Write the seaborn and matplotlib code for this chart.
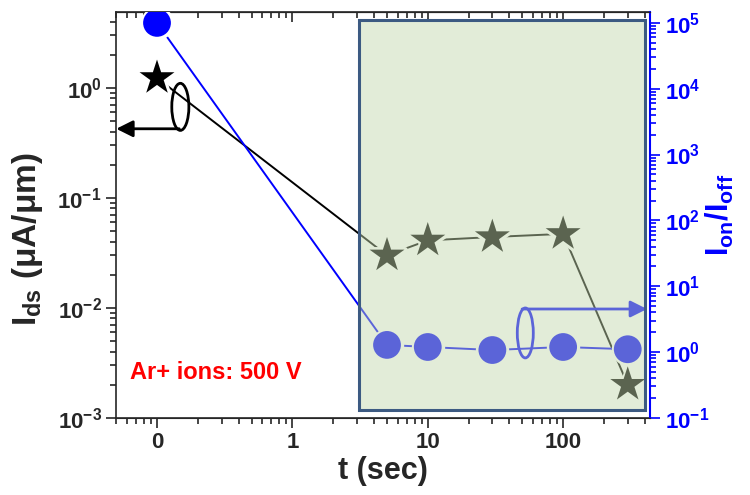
import numpy as np
import pandas as pd
import matplotlib
matplotlib.use("Agg")
import matplotlib.pyplot as plt
import seaborn as sns
from matplotlib.patches import Rectangle, Ellipse
from matplotlib.ticker import FixedLocator, FixedFormatter, LogLocator, NullFormatter

# data
t_sec = [0, 5, 10, 30, 100, 300]
t_ticks = [0.1, 1, 10, 100]          # "0" is drawn at the 0.1 position
t_labels = ["0", "1", "10", "100"]
ids = [1.23, 0.030, 0.041, 0.044, 0.047, 0.0020]       # uA/um
on_off = [1.0e5, 1.28, 1.19, 1.07, 1.19, 1.10]
left_ticks = [1e-3, 1e-2, 1e-1, 1e0]
left_labels = [r"$\mathbf{10^{-3}}$", r"$\mathbf{10^{-2}}$", r"$\mathbf{10^{-1}}$", r"$\mathbf{10^{0}}$"]
right_ticks = [1e-1, 1e0, 1e1, 1e2, 1e3, 1e4, 1e5]
right_labels = [r"$\mathbf{10^{%d}}$" % e for e in range(-1, 6)]

sns.set_style("ticks")
plt.rcParams["font.family"] = ["Liberation Sans", "DejaVu Sans"]
plt.rcParams["font.weight"] = "bold"
plt.rcParams["mathtext.fontset"] = "custom"
plt.rcParams["mathtext.rm"] = "Liberation Sans:bold"
plt.rcParams["mathtext.bf"] = "Liberation Sans:bold"

df = pd.DataFrame({"t": [0.1 if t == 0 else t for t in t_sec], "ids": ids, "ratio": on_off})

fig, ax = plt.subplots(figsize=(7.5, 4.95), dpi=100)
plt.subplots_adjust(left=0.155, right=0.867, top=0.976, bottom=0.156)
ax.set_xscale("log")
ax.set_yscale("log")
ax2 = ax.twinx()
ax2.set_yscale("log")

blue = "#0000ff"

# Ids: line, white mask under each star for the gap, then the stars
sns.lineplot(data=df, x="t", y="ids", color="black", lw=1.4, ax=ax)
sns.scatterplot(data=df, x="t", y="ids", marker="*", s=700, color="white", edgecolor="white",
                linewidth=4, ax=ax, zorder=2.6, clip_on=False)
sns.scatterplot(data=df, x="t", y="ids", marker="*", s=700, color="black", edgecolor="none",
                ax=ax, zorder=3, clip_on=False)

# on/off ratio
sns.lineplot(data=df, x="t", y="ratio", color=blue, lw=1.4, ax=ax2)
sns.scatterplot(data=df, x="t", y="ratio", marker="o", s=400, color="white", edgecolor="white",
                linewidth=4, ax=ax2, zorder=2.6)
sns.scatterplot(data=df, x="t", y="ratio", marker="o", s=400, color=blue, edgecolor="none",
                ax=ax2, zorder=3)

ax.set_xlim(0.05, 440)
ax.set_ylim(1e-3, 4.9)
ax2.set_ylim(0.1, 1.47e5)

# left annotation (ellipse + arrow to left axis)
ax.add_patch(Ellipse((0.12, 0.766), 0.032, 0.116, transform=ax.transAxes, fill=False, ec="black", lw=2, zorder=4))
ax.annotate("", xy=(0.0, 0.712), xycoords="axes fraction", xytext=(0.118, 0.712), textcoords="axes fraction",
            arrowprops=dict(arrowstyle="-|>", color="black", lw=2, mutation_scale=25, shrinkA=0, shrinkB=0))

# right annotation (ellipse + arrow to right axis)
ax2.add_patch(Ellipse((0.766, 0.209), 0.03, 0.123, transform=ax2.transAxes, fill=False, ec=blue, lw=2, zorder=2))
ax2.annotate("", xy=(0.994, 0.268), xycoords="axes fraction", xytext=(0.76, 0.268), textcoords="axes fraction",
             arrowprops=dict(arrowstyle="-|>", color=blue, lw=2, mutation_scale=25, shrinkA=0, shrinkB=0), zorder=2)

# translucent green box
box_x0, box_x1 = 3.1, 400
ax2.add_patch(Rectangle((box_x0, 0.132), box_x1 - box_x0, 1.1e5 - 0.132, fc="#c2d7ac", alpha=0.47, ec="none", zorder=5))
ax2.add_patch(Rectangle((box_x0, 0.132), box_x1 - box_x0, 1.1e5 - 0.132, fill=False, ec="#3c5a82", lw=2.2, zorder=6))

ax.text(0.025, 0.095, "Ar+ ions: 500 V", transform=ax.transAxes, color="red", fontsize=17, fontweight="bold")

minor_x = [m * 10.0 ** d for d in range(-2, 3) for m in range(2, 10)]

# x axis
ax.xaxis.set_major_locator(FixedLocator(t_ticks))
ax.xaxis.set_major_formatter(FixedFormatter(t_labels))
ax.xaxis.set_minor_locator(FixedLocator(minor_x))
ax.xaxis.set_minor_formatter(NullFormatter())
top = ax.secondary_xaxis("top")
top.set_xticks(t_ticks)
top.set_xticks(minor_x, minor=True)
top.xaxis.set_major_formatter(NullFormatter())
top.xaxis.set_minor_formatter(NullFormatter())
top.tick_params(which="both", direction="in", width=1.2)
top.tick_params(which="major", length=7)
top.tick_params(which="minor", length=4)

# left y axis
ax.yaxis.set_major_locator(FixedLocator(left_ticks))
ax.yaxis.set_major_formatter(FixedFormatter(left_labels))
ax.yaxis.set_minor_locator(LogLocator(base=10, subs=np.arange(2, 10), numticks=20))
ax.yaxis.set_minor_formatter(NullFormatter())
ax.tick_params(which="both", direction="out", width=1.2, labelsize=16)
ax.tick_params(which="major", length=7)
ax.tick_params(which="minor", length=4)

# right y axis
ax2.yaxis.set_major_locator(FixedLocator(right_ticks))
ax2.yaxis.set_major_formatter(FixedFormatter(right_labels))
ax2.yaxis.set_minor_locator(LogLocator(base=10, subs=np.arange(2, 10), numticks=20))
ax2.yaxis.set_minor_formatter(NullFormatter())
ax2.tick_params(axis="y", which="both", direction="out", width=1.2, colors=blue, labelsize=16)
ax2.tick_params(axis="y", which="major", length=7)
ax2.tick_params(axis="y", which="minor", length=4)

for s in ax.spines.values():
    s.set_linewidth(1.2)
ax2.spines["right"].set_color(blue)
ax2.spines["right"].set_linewidth(1.5)
ax2.spines["left"].set_visible(False)
ax.spines["right"].set_visible(False)

ax.set_xlabel("t (sec)", fontsize=22, fontweight="bold", labelpad=2)
ax.set_ylabel(r"I$_{\mathbf{ds}}$ (μA/μm)", fontsize=24, fontweight="bold")
ax.yaxis.set_label_coords(-0.134, 0.44)
ax2.set_ylabel(r"I$_{\mathbf{on}}$/I$_{\mathbf{off}}$", fontsize=22, fontweight="bold", color=blue, labelpad=-4)

# first draw so every tick is laid out before saving
fig.canvas.draw()
fig.savefig("out.png", dpi=100)
